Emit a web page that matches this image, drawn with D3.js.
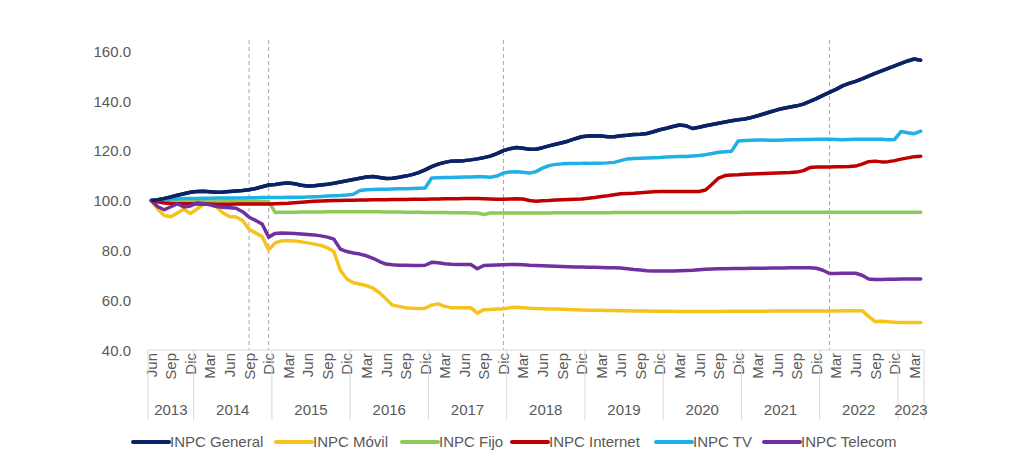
<!DOCTYPE html>
<html><head><meta charset="utf-8">
<script src="https://cdn.jsdelivr.net/npm/d3@7"></script>
<style>body{margin:0;background:#fff}text{font-family:"Liberation Sans",Arial,sans-serif;fill:#595959}</style>
</head><body><svg id="c" width="1024" height="472"></svg>
<script>
const monthNames=["Ene","Feb","Mar","Abr","May","Jun","Jul","Ago","Sep","Oct","Nov","Dic"];
const startYear=2013, startMonth=5; // Jun 2013
const nMonths=119;
const yTicks=[40,60,80,100,120,140,160];
const markerMonths=[15,18,54,104];
const seriesNames=["INPC General","INPC Móvil","INPC Fijo","INPC Internet","INPC TV","INPC Telecom"];
const colors=["#0c2266","#f6c31c","#8ccb5a","#c00000","#1fb0e6","#7030a0"];
const general=[100,100.3,100.8,101.4,102.1,102.7,103.3,
103.6,103.7,103.5,103.3,103.4,103.6,103.8,104.0,104.3,104.8,105.5,106.2,
106.4,106.8,107.0,106.7,106.1,105.8,105.9,106.2,106.5,106.9,107.4,107.9,
108.4,108.9,109.4,109.6,109.2,108.8,108.9,109.3,109.8,110.4,111.2,112.3,
113.6,114.6,115.3,115.8,115.9,116.0,116.3,116.7,117.2,117.8,118.8,120.0,
120.8,121.3,121.0,120.6,120.6,121.2,121.9,122.6,123.2,123.9,124.8,125.6,
125.9,126.0,125.9,125.6,125.6,126.0,126.2,126.5,126.6,126.9,127.6,128.4,
129.0,129.7,130.3,130.0,128.9,129.4,130.0,130.5,131.0,131.5,132.0,132.4,
132.7,133.3,134.0,134.8,135.6,136.4,137.0,137.5,138.0,138.7,139.8,140.9,
142.2,143.4,144.6,146.0,147.0,147.8,148.8,149.9,151.0,152.0,153.0,154.0,
155.0,156.0,156.8,156.3];
const movil=[100,96.5,94,93.5,95,96.5,94.8,
96.5,98.5,98.8,97.5,95,93.6,93.4,92.0,88.5,87.0,85.5,80.2,
83.0,83.8,83.8,83.7,83.4,83.0,82.5,82.0,81.0,79.5,72.0,68.5,
67.0,66.5,65.8,64.8,63.0,60.5,58.0,57.5,57.0,56.8,56.7,56.8,
58.0,58.5,57.5,57.0,57.0,57.0,57.0,54.8,56.2,56.3,56.5,56.5,
57.0,57.2,57.0,56.8,56.7,56.6,56.5,56.5,56.4,56.3,56.2,56.1,
56.0,56.0,56.0,55.9,55.9,55.8,55.8,55.7,55.7,55.7,55.6,55.6,
55.6,55.6,55.5,55.5,55.5,55.5,55.5,55.5,55.5,55.6,55.6,55.6,
55.6,55.6,55.6,55.6,55.7,55.7,55.7,55.7,55.7,55.7,55.7,55.7,
55.7,55.7,55.7,55.8,55.8,55.8,55.8,53.5,51.4,51.5,51.3,51.1,
51.0,51.0,51.0,51.0];
const fijo=[100,99.8,99.7,99.6,99.6,99.7,99.7,
99.8,99.8,99.8,99.8,99.8,99.8,99.7,99.7,99.7,99.7,99.6,99.5,
95.2,95.3,95.3,95.3,95.4,95.4,95.4,95.4,95.5,95.5,95.5,95.5,
95.5,95.5,95.5,95.5,95.5,95.4,95.4,95.4,95.3,95.3,95.3,95.2,
95.2,95.2,95.2,95.1,95.1,95.1,95.0,95.0,94.4,95.0,95.0,95.0,
95.0,95.0,95.0,95.0,95.0,95.0,95.0,95.1,95.1,95.1,95.1,95.1,
95.1,95.1,95.1,95.1,95.2,95.2,95.2,95.2,95.2,95.2,95.2,95.2,
95.2,95.2,95.2,95.2,95.2,95.2,95.2,95.2,95.2,95.2,95.2,95.2,
95.3,95.3,95.3,95.3,95.3,95.3,95.3,95.3,95.3,95.3,95.3,95.3,
95.3,95.3,95.3,95.3,95.3,95.3,95.3,95.3,95.3,95.3,95.3,95.3,
95.3,95.3,95.3,95.3];
const internet=[100,99.5,99.0,98.8,98.7,98.7,98.7,
98.6,98.6,98.6,98.5,98.5,98.5,98.6,98.6,98.6,98.6,98.6,98.6,
98.7,98.8,98.9,99.1,99.3,99.5,99.7,99.8,99.9,100.0,100.0,100.1,
100.1,100.2,100.2,100.3,100.3,100.3,100.4,100.4,100.4,100.5,100.5,100.5,
100.6,100.6,100.7,100.7,100.7,100.8,100.8,100.8,100.7,100.6,100.5,100.5,
100.6,100.7,100.6,100.0,99.7,99.9,100.0,100.2,100.3,100.4,100.5,100.6,
100.9,101.2,101.6,101.9,102.3,102.7,102.8,102.9,103.1,103.3,103.5,103.6,
103.6,103.6,103.6,103.6,103.6,103.6,104.2,106.5,109.0,110.0,110.2,110.3,
110.5,110.6,110.7,110.8,110.9,111.0,111.1,111.2,111.4,112.0,113.2,113.4,
113.4,113.4,113.5,113.5,113.6,113.8,114.6,115.6,115.8,115.5,115.6,116.0,
116.6,117.1,117.6,117.8];
const tv=[100,100.3,100.5,100.6,100.7,100.8,100.8,
100.8,100.9,100.9,101.0,101.0,101.0,101.0,101.0,101.1,101.1,101.2,101.2,
101.2,101.2,101.3,101.3,101.3,101.4,101.5,101.6,101.8,101.9,102.0,102.2,
102.5,104.0,104.3,104.4,104.5,104.5,104.6,104.7,104.7,104.8,104.9,105.0,
109.0,109.1,109.2,109.2,109.3,109.4,109.4,109.5,109.5,109.3,109.8,111.0,
111.4,111.5,111.3,111.0,111.6,113.0,114.0,114.5,114.7,114.8,114.8,114.9,
114.9,115.0,115.0,115.1,115.3,116.0,116.7,116.9,117.0,117.1,117.2,117.3,
117.5,117.6,117.7,117.7,117.9,118.1,118.4,118.9,119.4,119.6,119.8,123.9,
124.1,124.2,124.3,124.3,124.2,124.2,124.3,124.4,124.4,124.5,124.5,124.6,
124.6,124.6,124.5,124.4,124.5,124.6,124.6,124.6,124.6,124.6,124.4,124.5,
127.7,127.2,126.8,127.8];
const telecom=[100,97.5,96.3,97.5,98.7,97.4,97.8,
99,98.8,98.3,97.6,97.3,97.1,96.9,95.5,93.3,92.0,90.6,85.3,
86.8,87.0,86.9,86.8,86.6,86.4,86.2,85.8,85.3,84.5,80.5,79.5,
78.9,78.5,77.8,76.8,75.5,74.5,74.2,74.0,74.0,73.9,73.9,74.0,
75.2,75.0,74.6,74.4,74.3,74.3,74.3,72.6,73.9,74.0,74.1,74.2,
74.3,74.3,74.2,74.0,73.9,73.8,73.7,73.6,73.5,73.4,73.3,73.3,
73.2,73.2,73.1,73.0,73.0,72.9,72.6,72.3,72.1,71.8,71.7,71.7,
71.7,71.7,71.8,71.9,72.0,72.2,72.4,72.5,72.6,72.6,72.7,72.7,
72.7,72.8,72.8,72.8,72.9,72.9,72.9,73.0,73.0,73.0,73.0,72.8,
72.0,70.7,70.7,70.8,70.8,70.8,70.0,68.5,68.3,68.3,68.4,68.4,
68.5,68.5,68.5,68.5];
const allSeries=[general,movil,fijo,internet,tv,telecom];

const svg=d3.select("#c");
const L=148,R=924,T=51,B=350;
const idx=d3.range(nMonths);
const x=d3.scaleBand().domain(idx).range([L,R]);
const xc=i=>x(i)+x.bandwidth()/2;
const y=d3.scaleLinear().domain([40,160]).range([B,T]);

const ya=svg.append("g").attr("transform",`translate(${L-14},0)`)
 .call(d3.axisLeft(y).tickValues(yTicks).tickSize(0).tickFormat(d3.format(".1f")));
ya.select(".domain").remove();
ya.selectAll("text").style("font-size","15px").attr("dy","0.35em");

svg.selectAll("line.mk").data(markerMonths).join("line")
 .attr("x1",d=>xc(d)).attr("x2",d=>xc(d)).attr("y1",40).attr("y2",B)
 .attr("stroke","#a6a6a6").attr("stroke-dasharray","4,3").attr("stroke-width",1);

svg.append("line").attr("x1",L).attr("x2",R).attr("y1",B).attr("y2",B).attr("stroke","#d9d9d9");
const qIdx=idx.filter(i=>(startMonth+i)%3===2);
svg.selectAll("text.m").data(qIdx).join("text")
 .attr("transform",d=>`translate(${xc(d)+5.5},353) rotate(-90)`)
 .attr("text-anchor","end").style("font-size","15px")
 .text(d=>monthNames[(startMonth+d)%12]);
const years=d3.range(startYear,2024);
const yStart=yr=>Math.max(0,(yr-startYear)*12-startMonth);
const yEnd=yr=>Math.min(nMonths,(yr-startYear+1)*12-startMonth);
const bx=i=>i>=nMonths?R:x(i);
svg.selectAll("line.ys").data(years.map(yStart).concat([nMonths])).join("line")
 .attr("x1",d=>bx(d)).attr("x2",d=>bx(d)).attr("y1",B).attr("y2",420).attr("stroke","#d9d9d9");
svg.selectAll("text.yr").data(years).join("text")
 .attr("x",d=>(bx(yStart(d))+bx(yEnd(d)))/2).attr("y",415).attr("text-anchor","middle")
 .style("font-size","15px").text(d=>d);

const line=d3.line().x((d,i)=>xc(i)).y(d=>y(d)).curve(d3.curveLinear);
svg.selectAll("path.s").data(allSeries).join("path")
 .attr("d",line).attr("fill","none").attr("stroke",(d,i)=>colors[i])
 .attr("stroke-width",3.5).attr("stroke-linejoin","round").attr("stroke-linecap","round");
svg.append("path").datum(general).attr("d",line).attr("fill","none").attr("stroke",colors[0]).attr("stroke-width",3.5).attr("stroke-linejoin","round");

const legX=[133,276,402,512,656,764];
const lg=svg.selectAll("g.lg").data(seriesNames).join("g").attr("transform",(d,i)=>`translate(${legX[i]},442)`);
lg.append("line").attr("x1",0).attr("x2",36).attr("stroke",(d,i)=>colors[i]).attr("stroke-width",4).attr("stroke-linecap","round");
lg.append("text").attr("x",37).attr("dy","0.35em").style("font-size","15px").text(d=>d);
</script></body></html>
